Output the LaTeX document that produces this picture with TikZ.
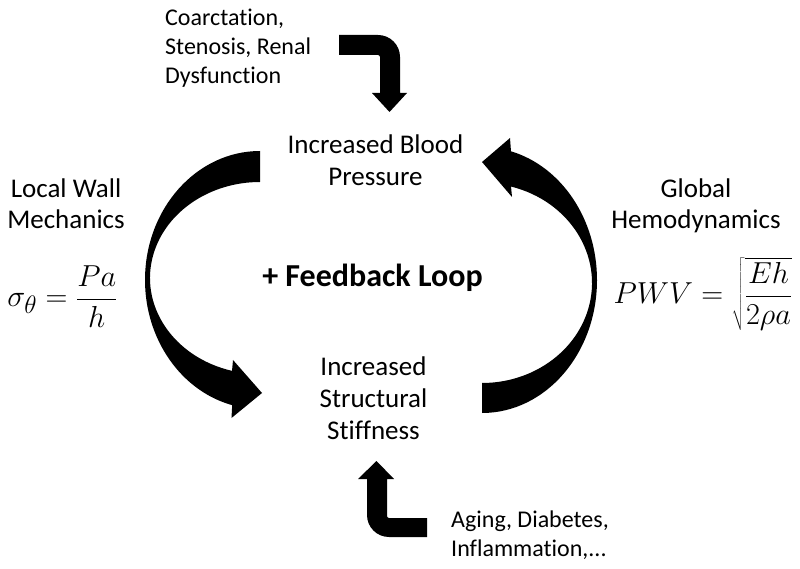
\documentclass[tikz,border=0pt]{standalone}
\usepackage{graphicx}
\usepackage{fontspec}
\setmainfont{Carlito}[Ligatures=NoCommon]
\begin{document}
\begin{tikzpicture}[x=1pt,y=1pt,
  arrowshape/.style={fill=black, draw=none},
  mainlbl/.style={inner sep=0pt, align=center, font=\fontsize{27}{32}\selectfont},
  sidelbl/.style={inner sep=0pt, align=center, font=\fontsize{27}{31}\selectfont},
  causelbl/.style={inner sep=0pt, align=left, font=\fontsize{24}{28.8}\selectfont},
  eqlbl/.style={inner sep=0pt, font=\fontsize{24.88}{30}\selectfont},
  looplbl/.style={inner sep=0pt, font=\fontsize{32}{38}\selectfont\bfseries}]
\useasboundingbox (0,0) rectangle (800,568);
\fill[white] (0,0) rectangle (800,568);

% texts (y = 568 - screen y)
\node[mainlbl] (bp) at (375.5,407.4) {Increased Blood\\Pressure};
\node[mainlbl] (st) at (373.5,169.4) {Increased\\Structural\\Stiffness};
\node[looplbl] (loop) at (372.5,290.2) {+ Feedback Loop};
\node[sidelbl] (lwm) at (66,364) {Local Wall\\Mechanics};
\node[sidelbl] (gh) at (696,362.4) {Global\\Hemodynamics};
\node[causelbl, anchor=west] (top) at (165,520) {Coarctation,\\Stenosis, Renal\\Dysfunction};
\node[causelbl, anchor=west] (bot) at (451,33) {Aging, Diabetes,\\Inflammation,...};
\node[eqlbl] (eql) at (62.5,271.5) {\scalebox{1.22}{$\displaystyle \sigma_\theta = \frac{Pa}{h}$}};
\node[eqlbl] (eqr) at (703,274) {\scalebox{1.22}{$\displaystyle PWV = \sqrt{\frac{Eh}{2\rho a}}$}};

% left curved arrow: pressure -> stiffness
\path[arrowshape] (260,417)
  arc[start angle=90, end angle=256, x radius=115pt, y radius=129pt]
  -- (231.5,150) -- (262,175) -- (233,208)
  -- ([shift={(260,290)}]255.26:110pt and 96pt)
  arc[start angle=255.26, end angle=90, x radius=110pt, y radius=96pt]
  -- cycle;

% right curved arrow: stiffness -> pressure
\path[arrowshape] (482,155)
  arc[start angle=-90, end angle=75.4, x radius=115pt, y radius=133pt]
  -- (510,430) -- (482,406) -- (512,371)
  -- ([shift={(482,285)}]74.7:110pt and 100pt)
  arc[start angle=74.7, end angle=-90, x radius=110pt, y radius=100pt]
  -- cycle;

% top bent arrow
\path[arrowshape] (339,533) -- (378,533)
  arc[start angle=90, end angle=0, radius=22pt]
  -- (400,475) -- (407,475) -- (389.5,456) -- (372,475) -- (380,475)
  -- (380,511) arc[start angle=0, end angle=90, radius=2pt]
  -- (339,513) -- cycle;

% bottom bent arrow
\path[arrowshape] (427,50) -- (389,50)
  arc[start angle=270, end angle=180, radius=2pt]
  -- (387,89) -- (394,89) -- (376.5,107) -- (358,89) -- (367,89)
  -- (367,53) arc[start angle=180, end angle=270, radius=22pt]
  -- (427,31) -- cycle;
\end{tikzpicture}
\end{document}
